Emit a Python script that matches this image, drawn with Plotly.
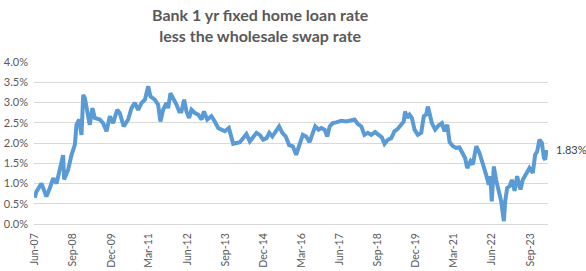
import plotly.graph_objects as go

dates = [
    "2007-06-01", "2007-06-20", "2007-08-19", "2007-10-18", "2007-11-28", "2008-01-07",
    "2008-02-16", "2008-03-26", "2008-05-05", "2008-05-17", "2008-07-04", "2008-08-13",
    "2008-09-23", "2008-10-12", "2008-11-14", "2008-12-11", "2009-01-01", "2009-01-21",
    "2009-02-10", "2009-03-20", "2009-04-21", "2009-05-19", "2009-07-18", "2009-08-27",
    "2009-10-07", "2009-11-16", "2009-12-25", "2010-02-12", "2010-03-14", "2010-05-01",
    "2010-06-23", "2010-08-02", "2010-09-11", "2010-10-21", "2010-12-01", "2011-01-10",
    "2011-02-19", "2011-03-17", "2011-05-08", "2011-06-17", "2011-07-15", "2011-08-16",
    "2011-09-26", "2011-10-15", "2011-11-12", "2011-12-22", "2012-01-23", "2012-02-25",
    "2012-03-23", "2012-04-24", "2012-05-22", "2012-06-23", "2012-07-21", "2012-08-31",
    "2012-10-10", "2012-11-19", "2012-12-17", "2013-01-26", "2013-03-17", "2013-04-26",
    "2013-06-06", "2013-07-15", "2013-08-24", "2013-10-12", "2013-11-13", "2013-12-03",
    "2014-01-12", "2014-02-21", "2014-04-01", "2014-05-10", "2014-06-20", "2014-07-29",
    "2014-09-08", "2014-10-17", "2014-11-27", "2015-01-06", "2015-02-08", "2015-03-17",
    "2015-04-26", "2015-06-06", "2015-07-15", "2015-08-25", "2015-10-04", "2015-11-18",
    "2015-12-27", "2016-02-06", "2016-03-16", "2016-04-25", "2016-06-05", "2016-07-14",
    "2016-08-12", "2016-09-21", "2016-10-22", "2016-12-02", "2017-01-03", "2017-02-01",
    "2017-03-10", "2017-04-19", "2017-06-19", "2017-08-18", "2017-10-17", "2017-11-26",
    "2018-01-05", "2018-02-15", "2018-03-24", "2018-05-04", "2018-06-13", "2018-07-30",
    "2018-09-10", "2018-10-19", "2018-11-20", "2018-12-30", "2019-02-09", "2019-03-19",
    "2019-04-28", "2019-06-07", "2019-07-09", "2019-07-24", "2019-08-18", "2019-09-16",
    "2019-10-13", "2019-11-15", "2019-12-24", "2020-02-03", "2020-03-05", "2020-04-02",
    "2020-04-22", "2020-05-12", "2020-06-09", "2020-07-19", "2020-08-28", "2020-10-08",
    "2020-11-09", "2020-12-11", "2021-01-08", "2021-02-17", "2021-03-27", "2021-05-06",
    "2021-06-16", "2021-07-13", "2021-08-07", "2021-09-16", "2021-10-14", "2021-11-23",
    "2022-01-02", "2022-02-12", "2022-03-21", "2022-04-22", "2022-05-12", "2022-05-28",
    "2022-06-22", "2022-07-19", "2022-08-17", "2022-09-18", "2022-10-20", "2022-11-05",
    "2022-11-29", "2022-12-27", "2023-01-24", "2023-02-26", "2023-03-28", "2023-05-07",
    "2023-06-04", "2023-07-14", "2023-08-23", "2023-10-02", "2023-10-30", "2023-11-23",
    "2023-12-21", "2024-01-19", "2024-02-12", "2024-02-28", "2024-03-14",
]

spread_pct = [
    0.65, 0.80, 1.00, 0.68, 0.89, 1.13,
    1.00, 1.30, 1.70, 1.10, 1.34, 1.70,
    1.96, 2.45, 2.58, 2.20, 3.19, 3.10,
    2.82, 2.45, 2.86, 2.62, 2.58, 2.49,
    2.29, 2.66, 2.49, 2.82, 2.74, 2.41,
    2.58, 2.86, 2.99, 2.82, 2.99, 3.07,
    3.40, 3.15, 3.07, 2.95, 2.53, 2.82,
    2.99, 2.86, 3.23, 3.10, 2.95, 2.78,
    2.78, 3.07, 2.78, 2.62, 2.82, 2.74,
    2.70, 2.58, 2.78, 2.58, 2.66, 2.53,
    2.37, 2.33, 2.29, 2.37, 2.16, 1.98,
    2.00, 2.02, 2.12, 2.22, 2.04, 2.16,
    2.25, 2.20, 2.08, 2.12, 2.25, 2.16,
    2.29, 2.41, 2.25, 2.16, 1.95, 1.92,
    1.71, 2.00, 2.20, 2.16, 2.02, 2.25,
    2.41, 2.33, 2.37, 2.33, 2.16, 2.41,
    2.49, 2.51, 2.55, 2.53, 2.55, 2.58,
    2.47, 2.41, 2.20, 2.25, 2.20, 2.27,
    2.20, 2.14, 1.98, 2.08, 2.12, 2.29,
    2.35, 2.45, 2.53, 2.78, 2.62, 2.70,
    2.62, 2.33, 2.20, 2.25, 2.66, 2.70,
    2.90, 2.74, 2.49, 2.33, 2.43, 2.49,
    2.29, 2.45, 2.02, 1.92, 1.88, 1.89,
    1.71, 1.63, 1.38, 1.55, 1.47, 1.92,
    1.75, 1.42, 1.22, 0.97, 1.18, 0.56,
    1.42, 1.09, 0.81, 0.56, 0.07, 0.56,
    0.89, 0.93, 1.09, 0.82, 1.18, 0.85,
    1.09, 1.22, 1.38, 1.26, 1.71, 1.79,
    2.08, 2.00, 1.63, 1.59, 1.83,
]

tick_dates = [
    "2007-06-01", "2008-09-01", "2009-12-01", "2011-03-01", "2012-06-01",
    "2013-09-01", "2014-12-01", "2016-03-01", "2017-06-01", "2018-09-01",
    "2019-12-01", "2021-03-01", "2022-06-01", "2023-09-01",
]
tick_labels = [
    "Jun-07", "Sep-08", "Dec-09", "Mar-11", "Jun-12", "Sep-13", "Dec-14",
    "Mar-16", "Jun-17", "Sep-18", "Dec-19", "Mar-21", "Jun-22", "Sep-23",
]

y_ticks = [0, 0.5, 1.0, 1.5, 2.0, 2.5, 3.0, 3.5, 4.0]

title_lines = ["Bank 1 yr fixed home loan rate", "less the wholesale swap rate"]
last_label = f"{spread_pct[-1]:.2f}%"

fig = go.Figure()
fig.add_trace(go.Scatter(
    x=dates, y=spread_pct, mode="lines",
    line=dict(color="#5B9BD5", width=4),
    showlegend=False,
))

fig.add_annotation(
    x=1, xref="paper", y=spread_pct[-1], yref="y",
    text=last_label, showarrow=False, xanchor="left", xshift=6,
    font=dict(family="Lato", size=11, color="#404040"),
)

# two-line title (placed relative to the plot area)
fig.add_annotation(
    x=(260 - 34) / 514, xref="paper", y=1.0, yref="paper",
    yanchor="bottom", yshift=15, xanchor="center",
    text="<br>".join(title_lines), showarrow=False,
    font=dict(family="Lato", size=16, color="#595959", weight="bold"),
)

fig.update_layout(
    width=586, height=271,
    margin=dict(l=34, r=38, t=62, b=47, autoexpand=False),
    paper_bgcolor="white", plot_bgcolor="white",
    font=dict(family="Lato", size=10, color="#595959"),
)

fig.update_xaxes(
    type="date", range=["2007-05-22", "2024-04-01"],
    tickmode="array", tickvals=tick_dates, ticktext=tick_labels,
    tickangle=-90, showgrid=False, showline=True, linecolor="#D9D9D9",
    linewidth=1, ticks="", zeroline=False, ticklabelstandoff=4,
    automargin=False,
    tickfont=dict(family="Lato", size=10.5, color="#595959"),
)
fig.update_yaxes(
    range=[0, 4.0], tickmode="array", tickvals=y_ticks,
    ticktext=[f"{v:.1f}%" for v in y_ticks],
    showgrid=True, gridcolor="#D9D9D9", gridwidth=1, zeroline=False,
    showline=False, ticks="", ticklabelstandoff=5, automargin=False,
    tickfont=dict(family="Lato", size=11, color="#595959"),
)

fig.write_html("out.html")
